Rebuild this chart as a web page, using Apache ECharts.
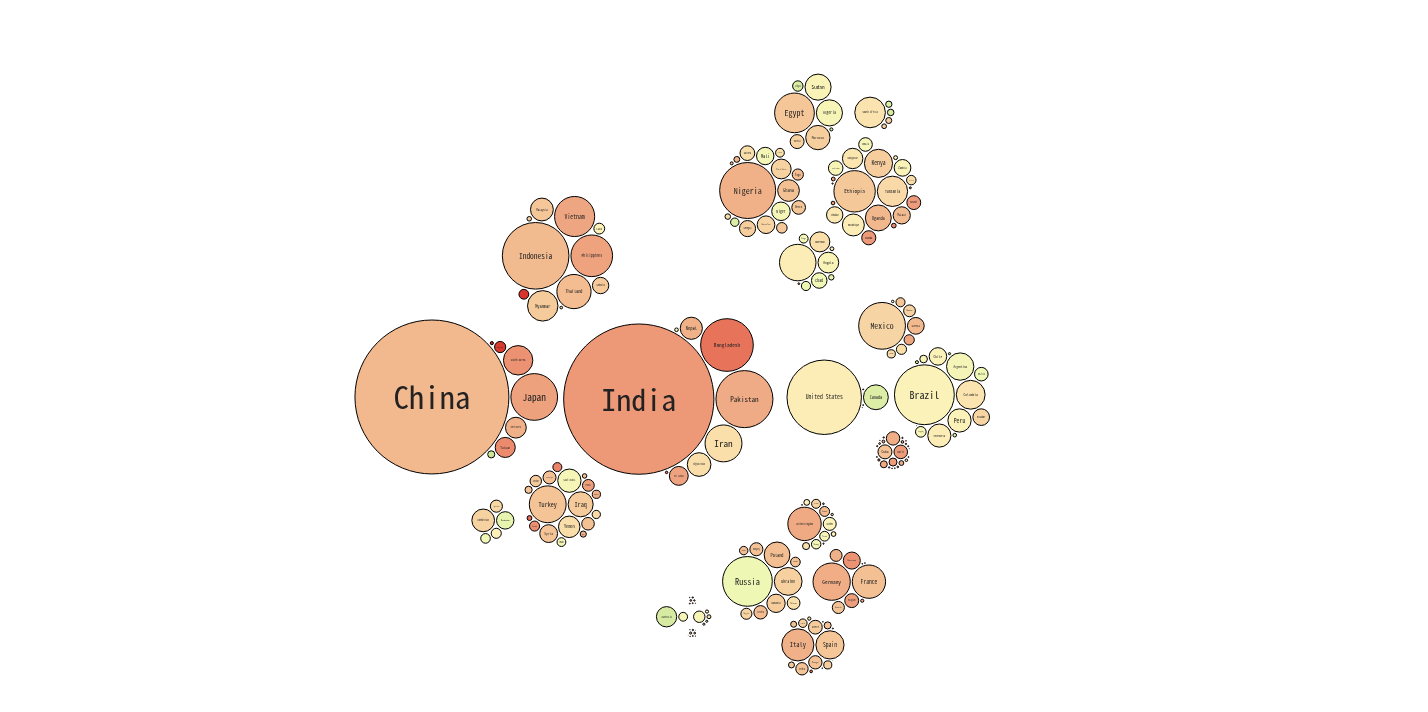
<!DOCTYPE html>
<html><head><meta charset="utf-8">
<script src="https://cdn.jsdelivr.net/npm/echarts@6/dist/echarts.min.js"></script>
<style>html,body{margin:0;padding:0;background:#fff}#main{width:1428px;height:712px}</style>
</head><body><div id="main"></div>
<script>
// Each row: [country, population (millions), density (people per km²)]
const EASTERN_ASIA = [['China',1376,146],['Japan',126.6,347],['South Korea',50.3,517],['North Korea',25.2,209],['Taiwan',23.4,650],['Hong Kong',7.3,6950],['Mongolia',2.96,2],['Macao',0.59,19800]];
const SOUTHERN_ASIA = [['India',1311,441],['Pakistan',188.9,245],['Bangladesh',161,1237],['Iran',79.1,49],['Afghanistan',32.5,50],['Nepal',28.5,199],['Sri Lanka',20.7,330],['Bhutan',0.77,20],['Maldives',0.36,1200]];
const SOUTH_EASTERN_ASIA = [['Indonesia',257.6,142],['Philippines',100.7,336],['Vietnam',93.4,301],['Thailand',68,133],['Myanmar',53.9,83],['Malaysia',30.3,92],['Cambodia',15.6,88],['Laos',6.8,29],['Singapore',5.6,7900],['Timor-Leste',1.2,80],['Brunei',0.42,80]];
const WESTERN_ASIA = [['Turkey',78.7,102],['Iraq',36.4,83],['Saudi Arabia',31.5,15],['Yemen',26.8,51],['Syria',18.5,100],['Azerbaijan',9.8,113],['United Arab Emirates',9.2,110],['Israel',8.1,375],['Jordan',7.6,85],['Lebanon',5.9,570],['State of Palestine',4.7,780],['Oman',4.5,15],['Georgia',4.0,57],['Kuwait',3.9,220],['Armenia',3.0,100],['Qatar',2.2,190],['Bahrain',1.4,1800],['Cyprus',1.2,125]];
const CENTRAL_ASIA = [['Uzbekistan',29.9,70],['Kazakhstan',17.6,6.5],['Tajikistan',8.5,60],['Kyrgyzstan',5.9,30],['Turkmenistan',5.4,11]];

const NORTHERN_AMERICA = [['United States',321.8,35],['Canada',35.9,4],['Bermuda',0.062,1200],['Greenland',0.056,0.14],['Saint Pierre and Miquelon',0.0063,26]];
const SOUTH_AMERICA = [['Brazil',207.8,25],['Colombia',48.2,43],['Argentina',43.4,16],['Peru',31.4,25],['Venezuela',31.1,35],['Chile',17.9,24],['Ecuador',16.1,64],['Bolivia',10.7,10],['Paraguay',6.6,17],['Uruguay',3.4,20],['Guyana',0.77,4],['Suriname',0.54,3.5],['French Guiana',0.27,3],['Falkland Islands',0.003,0.25]];
const CENTRAL_AMERICA = [['Mexico',127,65],['Guatemala',16.3,150],['Honduras',8.1,72],['El Salvador',6.1,295],['Nicaragua',6.0,51],['Costa Rica',4.8,94],['Panama',3.9,53],['Belize',0.36,16]];
const CARIBBEAN = [['Cuba',11.4,106],['Haiti',10.7,390],['Dominican Republic',10.5,218],['Puerto Rico',3.7,410],['Jamaica',2.8,255],['Trinidad and Tobago',1.36,265],['Guadeloupe',0.47,290],['Martinique',0.4,350],['Bahamas',0.39,39],['Barbados',0.28,660],['Saint Lucia',0.18,300],['Curaçao',0.16,360],['Saint Vincent',0.11,280],['Grenada',0.107,315],['US Virgin Islands',0.106,300],['Aruba',0.104,580],['Antigua and Barbuda',0.092,210],['Dominica',0.073,97],['Cayman Islands',0.06,250],['Saint Kitts and Nevis',0.056,215],['Sint Maarten',0.039,1100],['Turks and Caicos',0.034,36],['British Virgin Islands',0.03,200],['Anguilla',0.015,165],['Montserrat',0.005,50]];

const WESTERN_AFRICA = [['Nigeria',182.2,200],['Ghana',27.4,115],["Côte d'Ivoire",22.7,70],['Niger',19.9,16],['Burkina Faso',18.1,66],['Mali',17.6,14],['Senegal',15.1,77],['Guinea',12.6,51],['Benin',10.9,97],['Togo',7.3,128],['Sierra Leone',6.5,90],['Liberia',4.5,47],['Mauritania',4.1,4],['Gambia',2.0,176],['Guinea-Bissau',1.8,50],['Cabo Verde',0.52,129]];
const EASTERN_AFRICA = [['Ethiopia',99.4,90],['Tanzania',53.5,57],['Kenya',46.1,79],['Uganda',39,162],['Mozambique',28,35],['Madagascar',24.2,41],['Malawi',17.2,145],['Zambia',16.2,22],['Zimbabwe',15.6,40],['South Sudan',12.3,19],['Rwanda',11.6,440],['Burundi',11.2,400],['Somalia',10.8,17],['Eritrea',5.2,50],['Mauritius',1.27,620],['Djibouti',0.9,38],['Réunion',0.86,340],['Comoros',0.79,420],['Mayotte',0.24,640],['Seychelles',0.1,200]];
const NORTHERN_AFRICA = [['Egypt',91.5,92],['Algeria',39.7,17],['Sudan',39.6,22],['Morocco',34.4,77],['Tunisia',11.3,72],['Libya',6.3,3.6],['Western Sahara',0.57,2]];
const MIDDLE_AFRICA = [['Democratic Republic of the Congo',77.3,34],['Angola',25,20],['Cameroon',23.3,49],['Chad',14,11],['Central African Republic',4.9,8],['Congo',4.6,13],['Gabon',1.7,7],['Equatorial Guinea',0.85,30],['Sao Tome and Principe',0.19,200]];
const SOUTHERN_AFRICA = [['South Africa',54.5,45],['Namibia',2.5,3],['Botswana',2.3,4],['Lesotho',2.1,70],['Swaziland',1.3,75]];

const EASTERN_EUROPE = [['Russia',143.5,9],['Ukraine',44.8,74],['Poland',38.6,124],['Romania',19.5,82],['Czechia',10.5,136],['Hungary',9.9,107],['Belarus',9.5,47],['Bulgaria',7.1,66],['Slovakia',5.4,113],['Moldova',4.1,124]];
const WESTERN_EUROPE = [['Germany',80.7,231],['France',64.4,117],['Netherlands',16.9,500],['Belgium',11.3,373],['Austria',8.5,103],['Switzerland',8.3,208],['Luxembourg',0.57,220],['Monaco',0.038,19000],['Liechtenstein',0.037,235]];
const NORTHERN_EUROPE = [['United Kingdom',64.7,268],['Sweden',9.8,24],['Denmark',5.7,134],['Finland',5.5,18],['Norway',5.2,14],['Ireland',4.7,68],['Lithuania',2.9,46],['Latvia',2.0,31],['Estonia',1.3,30],['Iceland',0.33,3],['Channel Islands',0.16,850],['Isle of Man',0.088,155],['Faroe Islands',0.048,35]];
const SOUTHERN_EUROPE = [['Italy',59.8,203],['Spain',46.1,92],['Greece',11,84],['Portugal',10.3,112],['Serbia',8.9,101],['Croatia',4.2,75],['Bosnia and Herzegovina',3.8,75],['Albania',2.9,106],['Slovenia',2.1,103],['Macedonia',2.08,83],['Montenegro',0.63,47],['Malta',0.42,1300],['Andorra',0.07,150],['San Marino',0.032,530],['Gibraltar',0.031,3200],['Holy See',0.0008,1800]];

const AUSTRALIA_NZ = [['Australia',24,3],['New Zealand',4.5,17]];
const MELANESIA = [['Papua New Guinea',7.6,17],['Fiji',0.89,49],['Solomon Islands',0.58,21],['Vanuatu',0.26,21],['New Caledonia',0.26,14]];
const MICRONESIA = [['Guam',0.17,315],['Kiribati',0.112,140],['Micronesia',0.104,150],['Northern Mariana Islands',0.055,120],['Marshall Islands',0.053,290],['Palau',0.021,46],['Nauru',0.01,500]];
const POLYNESIA = [['French Polynesia',0.28,78],['Samoa',0.19,68],['Tonga',0.106,150],['American Samoa',0.056,280],['Cook Islands',0.021,88],['Wallis and Futuna',0.013,92],['Tuvalu',0.01,330],['Niue',0.0016,6],['Tokelau',0.0013,110]];

// Hierarchy (continent -> subregions), in packing order
const ASIA = [EASTERN_ASIA, SOUTHERN_ASIA, SOUTH_EASTERN_ASIA, WESTERN_ASIA, CENTRAL_ASIA];
const AMERICAS = [NORTHERN_AMERICA, SOUTH_AMERICA, CENTRAL_AMERICA, CARIBBEAN];
const AFRICA = [WESTERN_AFRICA, EASTERN_AFRICA, NORTHERN_AFRICA, MIDDLE_AFRICA, SOUTHERN_AFRICA];
const EUROPE = [EASTERN_EUROPE, WESTERN_EUROPE, NORTHERN_EUROPE, SOUTHERN_EUROPE];
const OCEANIA = [AUSTRALIA_NZ, MELANESIA, MICRONESIA, POLYNESIA];
const WORLD = [ASIA, AMERICAS, AFRICA, EUROPE, OCEANIA];

const DENSITY_COLORS = ['#bede8c','#d7eca2','#f0f8b6','#fdf0b8','#f4c496','#eea480','#e97a61','#e15541','#d52d26','#be141e'];

// ---------- layout parameters ----------
const W = 1428, H = 712;
const PX_PER_UNIT = 2.075;            // pixels per sqrt(million people)
const PADDING_PX = [3, 1, 1];         // padding when packing continents, subregions, countries
const ROOT_CENTER = [690, 371];       // pixel centre of the packed world circle

// ---------- circle packing (d3-hierarchy algorithm) ----------
function place(b, a, c) {
  var dx = b.x - a.x, x, a2, dy = b.y - a.y, y, b2, d2 = dx * dx + dy * dy;
  if (d2) {
    a2 = a.r + c.r; a2 *= a2; b2 = b.r + c.r; b2 *= b2;
    if (a2 > b2) {
      x = (d2 + b2 - a2) / (2 * d2); y = Math.sqrt(Math.max(0, b2 / d2 - x * x));
      c.x = b.x - x * dx - y * dy; c.y = b.y - x * dy + y * dx;
    } else {
      x = (d2 + a2 - b2) / (2 * d2); y = Math.sqrt(Math.max(0, a2 / d2 - x * x));
      c.x = a.x + x * dx - y * dy; c.y = a.y + x * dy + y * dx;
    }
  } else { c.x = a.x + c.r; c.y = a.y; }
}
function intersects(a, b) { var dr = a.r + b.r - 1e-6, dx = b.x - a.x, dy = b.y - a.y; return dr > 0 && dr * dr > dx * dx + dy * dy; }
function score(node) { var a = node._, b = node.next._, ab = a.r + b.r, dx = (a.x * b.r + b.x * a.r) / ab, dy = (a.y * b.r + b.y * a.r) / ab; return dx * dx + dy * dy; }
function enclosesNot(a, b) { var dr = a.r - b.r, dx = b.x - a.x, dy = b.y - a.y; return dr < 0 || dr * dr < dx * dx + dy * dy; }
function enclosesWeak(a, b) { var dr = a.r - b.r + Math.max(a.r, b.r, 1) * 1e-9, dx = b.x - a.x, dy = b.y - a.y; return dr > 0 && dr * dr > dx * dx + dy * dy; }
function enclosesWeakAll(a, B) { for (var i = 0; i < B.length; ++i) if (!enclosesWeak(a, B[i])) return false; return true; }
function encloseBasis2(a, b) {
  var x1 = a.x, y1 = a.y, r1 = a.r, x2 = b.x, y2 = b.y, r2 = b.r, x21 = x2 - x1, y21 = y2 - y1, r21 = r2 - r1, l = Math.sqrt(x21 * x21 + y21 * y21);
  return { x: (x1 + x2 + x21 / l * r21) / 2, y: (y1 + y2 + y21 / l * r21) / 2, r: (l + r1 + r2) / 2 };
}
function encloseBasis3(a, b, c) {
  var x1 = a.x, y1 = a.y, r1 = a.r, x2 = b.x, y2 = b.y, r2 = b.r, x3 = c.x, y3 = c.y, r3 = c.r,
    a2 = x1 - x2, a3 = x1 - x3, b2 = y1 - y2, b3 = y1 - y3, c2 = r2 - r1, c3 = r3 - r1,
    d1 = x1 * x1 + y1 * y1 - r1 * r1, d2 = d1 - x2 * x2 - y2 * y2 + r2 * r2, d3 = d1 - x3 * x3 - y3 * y3 + r3 * r3,
    ab = a3 * b2 - a2 * b3, xa = (b2 * d3 - b3 * d2) / (ab * 2) - x1, xb = (b3 * c2 - b2 * c3) / ab,
    ya = (a3 * d2 - a2 * d3) / (ab * 2) - y1, yb = (a2 * c3 - a3 * c2) / ab,
    A = xb * xb + yb * yb - 1, B = 2 * (r1 + xa * xb + ya * yb), C = xa * xa + ya * ya - r1 * r1,
    r = -(Math.abs(A) > 1e-6 ? (B + Math.sqrt(B * B - 4 * A * C)) / (2 * A) : C / B);
  return { x: x1 + xa + xb * r, y: y1 + ya + yb * r, r: r };
}
function encloseBasis(B) {
  if (B.length === 1) return { x: B[0].x, y: B[0].y, r: B[0].r };
  if (B.length === 2) return encloseBasis2(B[0], B[1]);
  return encloseBasis3(B[0], B[1], B[2]);
}
function extendBasis(B, p) {
  var i, j;
  if (enclosesWeakAll(p, B)) return [p];
  for (i = 0; i < B.length; ++i) if (enclosesNot(p, B[i]) && enclosesWeakAll(encloseBasis2(B[i], p), B)) return [B[i], p];
  for (i = 0; i < B.length - 1; ++i) for (j = i + 1; j < B.length; ++j)
    if (enclosesNot(encloseBasis2(B[i], B[j]), p) && enclosesNot(encloseBasis2(B[i], p), B[j]) && enclosesNot(encloseBasis2(B[j], p), B[i]) && enclosesWeakAll(encloseBasis3(B[i], B[j], p), B)) return [B[i], B[j], p];
  return [p];
}
function enclose(circles) {
  var i = 0, n = circles.length, B = [], p, e = null;
  while (i < n) { p = circles[i]; if (e && enclosesWeak(e, p)) ++i; else { B = extendBasis(B, p); e = encloseBasis(B); i = 0; } }
  return e;
}
function packSiblings(circles) {
  var n = circles.length, a, b, c, aa, ca, i, j, k, sj, sk;
  if (!n) return 0;
  a = circles[0]; a.x = 0; a.y = 0;
  if (n < 2) return a.r;
  b = circles[1]; a.x = -b.r; b.x = a.r; b.y = 0;
  if (n < 3) return a.r + b.r;
  place(b, a, c = circles[2]);
  a = { _: a }; b = { _: b }; c = { _: c };
  a.next = c.previous = b; b.next = a.previous = c; c.next = b.previous = a;
  pack: for (i = 3; i < n; ++i) {
    place(a._, b._, c = circles[i]); c = { _: c };
    j = b.next; k = a.previous; sj = b._.r; sk = a._.r;
    do {
      if (sj <= sk) {
        if (intersects(j._, c._)) { b = j; a.next = b; b.previous = a; --i; continue pack; }
        sj += j._.r; j = j.next;
      } else {
        if (intersects(k._, c._)) { a = k; a.next = b; b.previous = a; --i; continue pack; }
        sk += k._.r; k = k.previous;
      }
    } while (j !== k.next);
    c.previous = a; c.next = b; a.next = b.previous = b = c;
    aa = score(a);
    while ((c = c.next) !== b) { if ((ca = score(c)) < aa) { a = c; aa = ca; } }
    b = a.next;
  }
  a = [b._]; c = b; while ((c = c.next) !== b) a.push(c._);
  c = enclose(a);
  for (i = 0; i < n; ++i) { a = circles[i]; a.x -= c.x; a.y -= c.y; }
  return c.r;
}

// ---------- build hierarchy and pack ----------
const root = { x: 0, y: 0, children: WORLD.map(cont => ({ children: cont.map(sub => ({ children: sub.map(row => ({ name: row[0], pop: row[1], dens: row[2], r: Math.sqrt(row[1]) * PX_PER_UNIT })) })) })) };
function packNode(node, depth) {
  if (!node.children) return;
  node.children.forEach(ch => packNode(ch, depth + 1));
  const pad = PADDING_PX[depth];
  node.children.forEach(ch => ch.r += pad);
  const e = packSiblings(node.children);
  node.children.forEach(ch => ch.r -= pad);
  node.r = e + pad;
}
packNode(root, 0);

const points = [];
(function walk(node, px, py) {
  const ax = px + node.x, ay = py + node.y;
  if (node.children) node.children.forEach(ch => walk(ch, ax, ay));
  else points.push([ax, ay, node.r, Math.log10(node.dens), node.name]);
})(root, 0, 0);

const chart = echarts.init(document.getElementById('main'), null, { renderer: 'canvas' });
chart.setOption({
  animation: false,
  backgroundColor: '#fff',
  grid: { left: 0, right: 0, top: 0, bottom: 0 },
  xAxis: { type: 'value', min: -ROOT_CENTER[0], max: W - ROOT_CENTER[0], show: false },
  yAxis: { type: 'value', min: ROOT_CENTER[1] - H, max: ROOT_CENTER[1], show: false },
  visualMap: { show: false, type: 'continuous', dimension: 3, min: 0, max: 4.5, seriesIndex: 0, inRange: { color: DENSITY_COLORS } },
  series: [{
    type: 'custom',
    coordinateSystem: 'cartesian2d',
    data: points,
    dimensions: ['x', 'y', 'r', 'logDensity', 'name'],
    renderItem: function (params, api) {
      const c = api.coord([api.value(0), api.value(1)]);
      const r = api.size([api.value(2), 0])[0];
      const name = points[params.dataIndex][4];
      const fs = 2.0 * r / name.length;
      const children = [{ type: 'circle', shape: { cx: c[0], cy: c[1], r: r }, style: { fill: api.visual('color'), stroke: '#000', lineWidth: 1 } }];
      if (fs >= 1.2) children.push({ type: 'text', style: { text: name, x: c[0], y: c[1], align: 'center', verticalAlign: 'middle', fontSize: fs, fontFamily: '"Noto Sans Mono CJK JP", "Noto Sans Mono CJK SC", "Liberation Mono", monospace', fill: '#222' } });
      return { type: 'group', children: children };
    }
  }]
});
</script></body></html>
